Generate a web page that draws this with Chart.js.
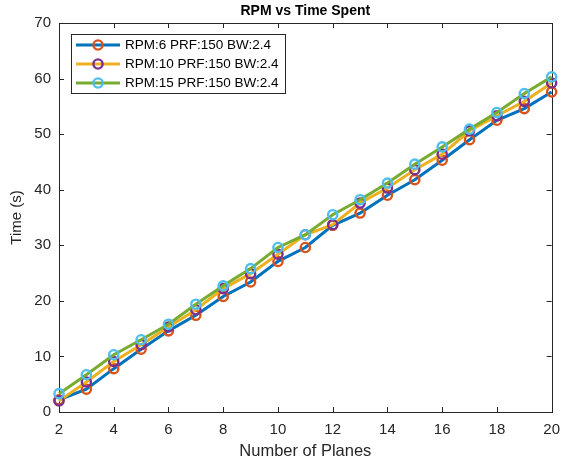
<!DOCTYPE html>
<html>
<head>
<meta charset="utf-8">
<script src="https://cdn.jsdelivr.net/npm/chart.js@4/dist/chart.umd.min.js"></script>
<style>
  html, body { margin: 0; padding: 0; background: #fff; }
  #wrap { width: 569px; height: 465px; }
</style>
</head>
<body>
<div id="wrap"><canvas id="myChart" width="569" height="465"></canvas></div>
<script>
const planes = [2, 3, 4, 5, 6, 7, 8, 9, 10, 11, 12, 13, 14, 15, 16, 17, 18, 19, 20];

const rpm6 = [2.2, 4.1, 7.8, 11.3, 14.6, 17.4, 20.8, 23.4, 27.1, 29.6, 33.6, 35.8, 39.0, 41.8, 45.3, 49.0, 52.5, 54.6, 57.6];
const rpm10 = [2.0, 5.4, 9.1, 12.1, 15.3, 18.4, 22.2, 24.9, 28.4, 31.9, 33.7, 37.6, 40.3, 43.6, 46.4, 50.6, 53.3, 55.9, 59.2];
const rpm15 = [3.3, 6.7, 10.3, 13.0, 15.8, 19.4, 22.7, 25.8, 29.6, 31.9, 35.5, 38.2, 41.2, 44.6, 47.7, 50.9, 53.9, 57.3, 60.3];

const seriesNames = ['RPM:6 PRF:150 BW:2.4', 'RPM:10 PRF:150 BW:2.4', 'RPM:15 PRF:150 BW:2.4'];
const lineColors = ['#0072BD', '#EDB120', '#77AC30'];
const markerColors = ['#D95319', '#7E2F8E', '#4DBEEE'];

const xTicks = [2, 4, 6, 8, 10, 12, 14, 16, 18, 20];
const yTicks = [0, 10, 20, 30, 40, 50, 60, 70];

const chartTitle = 'RPM vs Time Spent';
const axisColor = '#262626';
const fontName = '"Liberation Sans", Arial, Helvetica, sans-serif';

function toPoints(ys) {
    var pts = [];
    for (var i = 0; i < planes.length; i++) {
        pts.push({x: planes[i], y: ys[i]});
    }
    return pts;
}

function makeSet(idx, ys) {
    return {
        label: seriesNames[idx],
        data: toPoints(ys),
        borderColor: lineColors[idx],
        borderWidth: 3,
        pointRadius: 4.6,
        pointHoverRadius: 4.6,
        pointBorderWidth: 2.4,
        pointBorderColor: markerColors[idx],
        pointBackgroundColor: 'rgba(0,0,0,0)',
        tension: 0,
        clip: false,
        order: 3 - idx
    };
}

// box round the axes with inward ticks, like matlab
const axesBox = {
    id: 'axesBox',
    beforeDatasetsDraw(chart) {
        const ctx = chart.ctx;
        const a = chart.chartArea;
        const xs = chart.scales.x;
        const ys = chart.scales.y;
        const len = 5;
        ctx.save();
        ctx.strokeStyle = axisColor;
        ctx.lineWidth = 1;
        ctx.strokeRect(Math.round(a.left) + 0.5, Math.round(a.top) + 0.5,
            Math.round(a.right - a.left), Math.round(a.bottom - a.top));
        ctx.beginPath();
        xTicks.forEach(function (v) {
            const px = Math.round(xs.getPixelForValue(v)) + 0.5;
            ctx.moveTo(px, a.bottom);
            ctx.lineTo(px, a.bottom - len);
            ctx.moveTo(px, a.top);
            ctx.lineTo(px, a.top + len);
        });
        yTicks.forEach(function (v) {
            const py = Math.round(ys.getPixelForValue(v)) + 0.5;
            ctx.moveTo(a.left, py);
            ctx.lineTo(a.left + len, py);
            ctx.moveTo(a.right, py);
            ctx.lineTo(a.right - len, py);
        });
        ctx.stroke();

        // title centred over the axes
        ctx.fillStyle = '#000';
        ctx.font = 'bold 14px ' + fontName;
        ctx.textAlign = 'center';
        ctx.textBaseline = 'middle';
        ctx.fillText(chartTitle, (a.left + a.right) / 2, 11);
        ctx.restore();
    }
};

// legend box in the upper left corner of the axes
const boxLegend = {
    id: 'boxLegend',
    afterDatasetsDraw(chart) {
        const ctx = chart.ctx;
        const a = chart.chartArea;
        const bx = a.left + 12;
        const by = a.top + 11;
        const bw = 214;
        const bh = 59;
        ctx.save();
        ctx.fillStyle = '#fff';
        ctx.fillRect(bx, by, bw, bh);
        ctx.strokeStyle = axisColor;
        ctx.lineWidth = 1;
        ctx.strokeRect(Math.round(bx) + 0.5, Math.round(by) + 0.5, bw, bh);
        ctx.font = '13.5px ' + fontName;
        ctx.textBaseline = 'middle';
        ctx.textAlign = 'left';
        chart.data.datasets.forEach(function (ds, i) {
            const ry = by + 11 + i * 19;
            ctx.strokeStyle = ds.borderColor;
            ctx.lineWidth = 3;
            ctx.beginPath();
            ctx.moveTo(bx + 5, ry);
            ctx.lineTo(bx + 49, ry);
            ctx.stroke();
            ctx.strokeStyle = ds.pointBorderColor;
            ctx.lineWidth = 2.4;
            ctx.beginPath();
            ctx.arc(bx + 27, ry, 4.6, 0, Math.PI * 2);
            ctx.stroke();
            ctx.fillStyle = '#000';
            ctx.fillText(ds.label, bx + 54, ry + 0.5);
        });
        ctx.restore();
    }
};

const data = {
    datasets: [
        makeSet(0, rpm6),
        makeSet(1, rpm10),
        makeSet(2, rpm15)
    ]
};

const config = {
    type: 'line',
    data: data,
    options: {
        responsive: false,
        animation: false,
        layout: { padding: { left: 0, right: 15, top: 23, bottom: 0 } },
        plugins: {
            legend: { display: false },
            tooltip: { enabled: false },
            title: { display: false }
        },
        scales: {
            x: {
                type: 'linear',
                min: 2,
                max: 20,
                afterBuildTicks: function (scale) {
                    scale.ticks = xTicks.map(function (v) { return {value: v}; });
                },
                afterFit: function (scale) { scale.height = 53; },
                grid: { display: false, drawTicks: false },
                border: { display: false },
                ticks: {
                    color: axisColor,
                    padding: 9,
                    maxRotation: 0,
                    font: { family: fontName, size: 15 }
                },
                title: {
                    display: true,
                    text: 'Number of Planes',
                    color: axisColor,
                    font: { family: fontName, size: 16.5 },
                    padding: { top: 0, bottom: 3.4 }
                }
            },
            y: {
                min: 0,
                max: 70,
                afterBuildTicks: function (scale) {
                    scale.ticks = yTicks.map(function (v) { return {value: v}; });
                },
                afterFit: function (scale) { scale.width = 59; },
                grid: { display: false, drawTicks: false },
                border: { display: false },
                ticks: {
                    color: axisColor,
                    padding: 8,
                    font: { family: fontName, size: 15 }
                },
                title: {
                    display: true,
                    text: 'Time (s)',
                    color: axisColor,
                    font: { family: fontName, size: 15 },
                    padding: { top: 8, bottom: 0 }
                }
            }
        }
    },
    plugins: [axesBox, boxLegend]
};

const myChart = new Chart(
    document.getElementById('myChart'),
    config
);
</script>
</body>
</html>
